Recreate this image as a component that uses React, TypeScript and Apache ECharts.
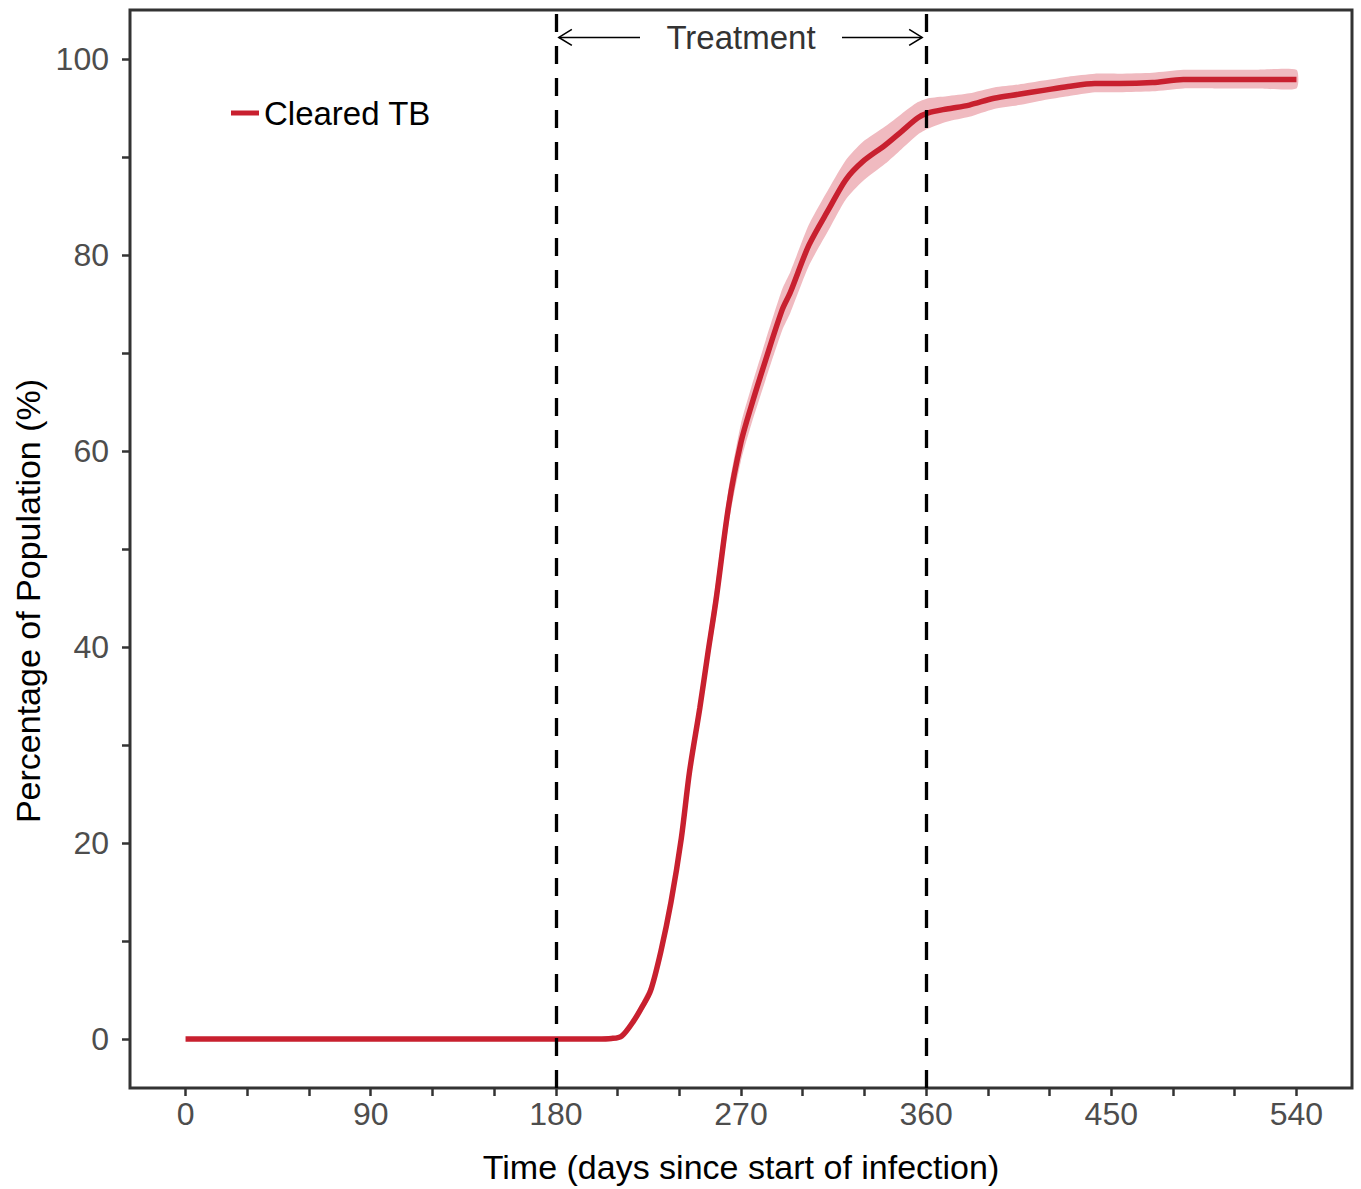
import React, { useEffect, useRef } from "react";
import * as echarts from "echarts";

// Time (days since start of infection)
const days = [0, 60, 120, 180, 200, 207, 212, 218, 222, 226, 231, 236, 241, 245, 250, 254, 258, 264, 270, 275, 282, 290, 294, 303, 313, 321, 329, 340, 348, 356, 361, 370, 381, 393, 405, 417, 429, 442, 454, 470, 485, 500, 520, 540];
// Mean % of population that cleared TB
const cleared = [0, 0, 0, 0, 0, 0.05, 0.3, 1.9, 3.3, 4.9, 8.9, 14, 20.5, 27.3, 33.8, 39.5, 45, 54.4, 60.9, 64.6, 69.3, 74.4, 76.2, 81, 84.8, 87.7, 89.5, 91.2, 92.6, 94.0, 94.5, 94.9, 95.3, 96.0, 96.4, 96.8, 97.2, 97.5, 97.5, 97.6, 97.9, 97.9, 97.9, 97.9];
// Ribbon bounds
const lower = [0, 0, 0, 0, 0, 0, 0.1, 1.5, 2.8, 4.3, 8.1, 13.1, 19.4, 26.1, 32.5, 38.1, 43.3, 52.6, 59, 62.7, 67.3, 72.3, 74.1, 78.9, 82.7, 85.7, 87.5, 89.3, 90.8, 92.3, 92.9, 93.6, 94.1, 94.9, 95.3, 95.8, 96.2, 96.6, 96.6, 96.7, 97.0, 97.0, 97.0, 97.0];
const upper = [0, 0, 0, 0, 0.05, 0.15, 0.5, 2.3, 3.9, 5.6, 9.7, 15, 21.6, 28.6, 35.2, 41, 46.8, 56.2, 62.8, 66.5, 71.3, 76.5, 78.3, 83.1, 86.9, 89.7, 91.5, 93.1, 94.4, 95.6, 96, 96.2, 96.5, 97.1, 97.4, 97.8, 98.2, 98.5, 98.5, 98.6, 98.9, 98.9, 98.9, 98.9];

const xTicks = [0, 30, 60, 90, 120, 150, 180, 210, 240, 270, 300, 330, 360, 390, 420, 450, 480, 510, 540];
const xLabels = [0, 90, 180, 270, 360, 450, 540];
const yTicks = [0, 10, 20, 30, 40, 50, 60, 70, 80, 90, 100];
const yLabels = [0, 20, 40, 60, 80, 100];
const treatmentStart = 180;
const treatmentEnd = 360;
const treatmentLabelY = 102.2;

const FONT = "Liberation Sans, Arial, Helvetica, sans-serif";
const RED = "#C8202F";
const RIBBON = "#F0BAC0";

export default function App() {
  const ref = useRef<HTMLDivElement>(null);

  useEffect(() => {
    if (!ref.current) return;
    const chart = echarts.init(ref.current, undefined, { renderer: "svg" });

    const lineData = days.map((d, i) => [d, cleared[i]]);

    const option: any = {
      animation: false,
      backgroundColor: "#ffffff",
      textStyle: { fontFamily: FONT },
      grid: {
        left: 130,
        top: 10,
        width: 1222,
        height: 1080,
        show: true,
        borderColor: "#333333",
        borderWidth: 3,
        backgroundColor: "transparent",
        containLabel: false,
      },
      legend: {
        show: true,
        data: ["Cleared TB"],
        left: 226,
        top: 90,
        icon: "rect",
        itemWidth: 28,
        itemHeight: 5,
        textStyle: { fontSize: 33, color: "#000", fontFamily: FONT, lineHeight: 36 },
      },
      xAxis: {
        type: "value",
        min: -27,
        max: 567,
        axisLine: { show: false, onZero: false },
        splitLine: { show: false },
        axisTick: { show: true, customValues: xTicks, length: 8, lineStyle: { color: "#333", width: 2.5 } },
        axisLabel: { customValues: xLabels, fontSize: 32, color: "#4D4D4D", margin: 10, fontFamily: FONT },
        name: "Time (days since start of infection)",
        nameLocation: "middle",
        nameGap: 62,
        nameTextStyle: { fontSize: 34, color: "#000", fontFamily: FONT },
      },
      yAxis: {
        type: "value",
        min: -5,
        max: 105,
        axisLine: { show: false, onZero: false },
        splitLine: { show: false },
        axisTick: { show: true, customValues: yTicks, length: 8, lineStyle: { color: "#333", width: 2.5 } },
        axisLabel: { customValues: yLabels, fontSize: 32, color: "#4D4D4D", margin: 21, fontFamily: FONT },
      },
      series: [
        {
          type: "custom",
          name: "ribbon",
          data: [[0, 0]],
          z: 1,
          silent: true,
          renderItem: (params: any, api: any) => {
            const pts: number[][] = [];
            for (let i = 0; i < days.length; i++) pts.push(api.coord([days[i], upper[i]]));
            for (let i = days.length - 1; i >= 0; i--) pts.push(api.coord([days[i], lower[i]]));
            return {
              type: "polygon",
              shape: { points: pts, smooth: 0.2 },
              style: { fill: RIBBON, stroke: null },
            };
          },
        },
        {
          type: "line",
          name: "Cleared TB",
          data: lineData,
          showSymbol: false,
          symbol: "none",
          smooth: 0.3,
          z: 3,
          color: RED,
          lineStyle: { color: RED, width: 5.5, cap: "butt" },
        },
        {
          type: "line",
          name: "treatment",
          data: [],
          z: 5,
          markLine: {
            silent: true,
            symbol: ["none", "none"],
            label: { show: false },
            lineStyle: { color: "#000", width: 3.3, type: [18, 14] },
            data: [{ xAxis: treatmentStart }, { xAxis: treatmentEnd }],
          },
        },
      ],
    };

    chart.setOption(option);

    const x1 = chart.convertToPixel({ xAxisIndex: 0 }, treatmentStart) as number;
    const x2 = chart.convertToPixel({ xAxisIndex: 0 }, treatmentEnd) as number;
    const y = chart.convertToPixel({ yAxisIndex: 0 }, treatmentLabelY) as number;
    const mid = (x1 + x2) / 2;
    const headL = 13;
    const headH = 8;
    const stroke = { stroke: "#000", lineWidth: 1.6, fill: null };

    chart.setOption({
      graphic: [
        {
          type: "text",
          x: 28,
          y: 601,
          rotation: Math.PI / 2,
          style: {
            text: "Percentage of Population (%)",
            fontSize: 34,
            fontFamily: FONT,
            fill: "#000",
            align: "center",
            verticalAlign: "middle",
          },
          z: 10,
        },
        {
          type: "text",
          x: mid,
          y: y,
          style: {
            text: "Treatment",
            fontSize: 33,
            fontFamily: FONT,
            fill: "#333333",
            align: "center",
            verticalAlign: "middle",
          },
          z: 10,
        },
        { type: "line", shape: { x1: x1 + 3, y1: y, x2: mid - 101, y2: y }, style: stroke, z: 10 },
        {
          type: "polyline",
          shape: { points: [[x1 + 3 + headL, y - headH], [x1 + 3, y], [x1 + 3 + headL, y + headH]] },
          style: stroke,
          z: 10,
        },
        { type: "line", shape: { x1: mid + 101, y1: y, x2: x2 - 4, y2: y }, style: stroke, z: 10 },
        {
          type: "polyline",
          shape: { points: [[x2 - 4 - headL, y - headH], [x2 - 4, y], [x2 - 4 - headL, y + headH]] },
          style: stroke,
          z: 10,
        },
      ],
    });

    return () => chart.dispose();
  }, []);

  return (
    <div
      ref={ref}
      style={{ position: "absolute", left: 0, top: 0, width: 1361, height: 1189 }}
    />
  );
}
